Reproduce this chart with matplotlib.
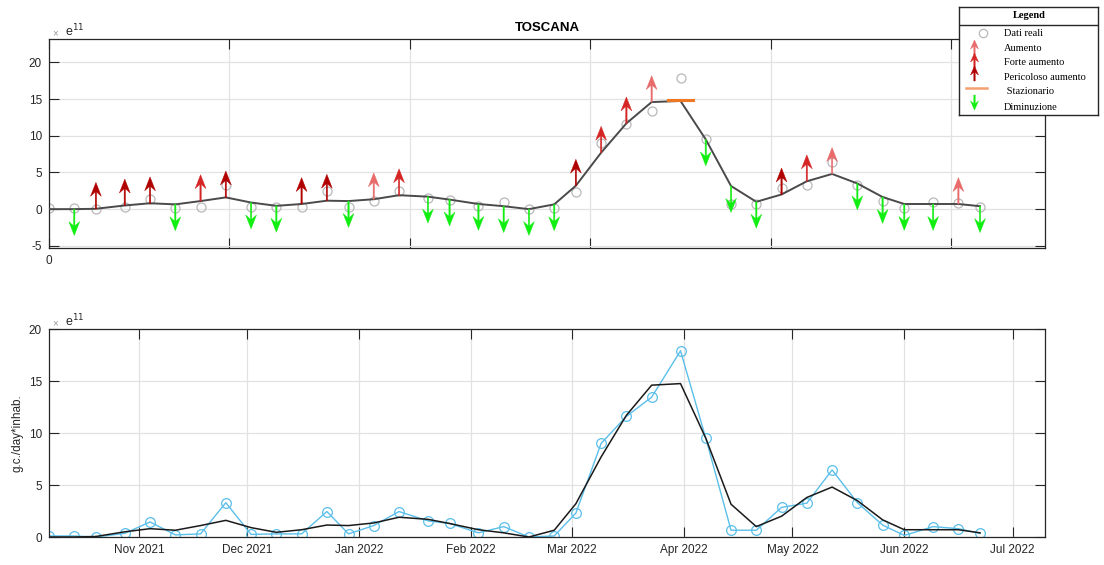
import datetime as dt
import numpy as np
import matplotlib
matplotlib.use('Agg')
import matplotlib.pyplot as plt

plt.rcParams['font.family'] = ['Liberation Sans', 'DejaVu Sans']
plt.rcParams['axes.unicode_minus'] = False

# dati: giorni dal 7 ottobre 2021, valori in unita' di 1e11 g.c./day*inhab.
inizio = dt.datetime(2021, 10, 7)
giorni = [0, 7, 13, 21, 28, 35, 42, 49, 56, 63, 70, 77, 83, 90, 97, 105, 111, 119, 126, 133,
          140, 146, 153, 160, 167, 175, 182, 189, 196, 203, 210, 217, 224, 231, 237, 245, 252, 258]
dati_reali = [0.1, 0.1, 0.0, 0.35, 1.45, 0.2, 0.3, 3.3, 0.25, 0.3,
              0.3, 2.45, 0.3, 1.1, 2.45, 1.55, 1.3, 0.4, 1.0, 0.0,
              0.1, 2.3, 9.0, 11.6, 13.45, 17.9, 9.5, 0.65, 0.65, 2.85,
              3.25, 6.45, 3.3, 1.15, 0.15, 1.0, 0.8, 0.35]
trend = [0.0, 0.0, 0.05, 0.5, 0.8, 0.65, 1.1, 1.6, 0.9, 0.45,
         0.7, 1.15, 1.1, 1.35, 1.9, 1.7, 1.3, 0.7, 0.4, 0.0,
         0.65, 3.2, 7.7, 11.7, 14.6, 14.75, 9.5, 3.15, 1.0, 2.0,
         3.8, 4.8, 3.5, 1.65, 0.7, 0.7, 0.7, 0.4]
# n=niente, g=diminuzione, a=aumento, f=forte aumento, p=pericoloso aumento, s=stazionario
tendenza = ['n', 'g', 'p', 'p', 'p', 'g', 'f', 'p', 'g', 'g',
            'p', 'p', 'g', 'a', 'f', 'g', 'g', 'g', 'g', 'g',
            'g', 'p', 'f', 'f', 'a', 's', 'g', 'g', 'g', 'p',
            'f', 'a', 'g', 'g', 'g', 'g', 'a', 'g']
mesi = ['Nov 2021', 'Dec 2021', 'Jan 2022', 'Feb 2022', 'Mar 2022', 'Apr 2022',
        'May 2022', 'Jun 2022', 'Jul 2022']

colori = {'a': '#e86a6a', 'f': '#d42424', 'p': '#b00000', 'g': '#11ee11'}
lung = 3.6
fine_giorni = 276
testo = '#262626'


def freccia(ax, x, y, d, c, hw, hl, w):
    ax.arrow(x, y, 0, d, width=w, head_width=hw, head_length=hl,
             length_includes_head=True, overhang=0.3, fc=c, ec=c, lw=0.3, zorder=4)


fig = plt.figure(figsize=(11.04, 5.65), dpi=100)
W, H = 1104, 565
ax1 = fig.add_axes([49 / W, 1 - 248 / H, 996 / W, 209 / H])
ax2 = fig.add_axes([49 / W, 1 - 537 / H, 996 / W, 208 / H])

for ax in (ax1, ax2):
    ax.grid(True, color='#e2e2e2', lw=0.9)
    ax.set_axisbelow(True)
    ax.tick_params(direction='in', top=True, right=True, length=7, width=0.8,
                   labelsize=8.5, colors=testo, pad=5)
    for s in ax.spines.values():
        s.set_color(testo)
        s.set_linewidth(0.9)

# --- grafico in alto ---
ax1.plot(giorni, trend, color='#4a4a4a', lw=1.4, zorder=3)
ax1.plot(giorni, dati_reali, 'o', mfc='none', mec='#b8b8b8', ms=6.5, mew=0.9, zorder=2)
for x, y, t in zip(giorni, trend, tendenza):
    if t == 'n':
        continue
    if t == 's':
        ax1.plot([x - 3.5, x + 3.5], [y + 0.15, y + 0.15], color='#ee7722', lw=2.2, zorder=4)
        continue
    d = -lung if t == 'g' else lung
    freccia(ax1, x, y, d, colori[t], hw=3.0, hl=1.9, w=0.38)
ax1.set_xlim(0, fine_giorni)
ax1.set_ylim(-5.3, 23.2)
ax1.set_yticks([-5, 0, 5, 10, 15, 20])
ax1.set_xticks([0, 50, 100, 150, 200, 250])
ax1.set_xticklabels(['0', '', '', '', '', ''])
ax1.set_title('TOSCANA', fontsize=9.5, fontweight='bold', color='black', pad=6)

# --- grafico in basso ---
date = [inizio + dt.timedelta(days=g) for g in giorni]
ax2.plot(date, dati_reali, '-o', color='#5bbfea', mfc='none', ms=7, lw=1.0, mew=0.9)
ax2.plot(date, trend, color='#1a1a1a', lw=1.1)
ax2.set_xlim(inizio, inizio + dt.timedelta(days=fine_giorni))
ax2.set_ylim(0, 20)
ax2.set_yticks([0, 5, 10, 15, 20])
tick_mesi = [dt.datetime(2021 + (10 + i) // 12, (10 + i) % 12 + 1, 1) for i in range(len(mesi))]
ax2.set_xticks(tick_mesi)
ax2.set_xticklabels(mesi)
ax2.set_ylabel('g.c./day*inhab.', fontsize=8.5, color=testo, labelpad=4)

# esponente stile MATLAB
for y0 in (33, 323):
    fig.text(52 / W, 1 - y0 / H, '\u00d7', fontsize=7, color='#999999', va='center')
    fig.text(65 / W, 1 - (y0 - 2) / H, r'e$^{11}$', fontsize=9, color=testo, va='center')

# --- legenda ---
lax = fig.add_axes([959 / W, 1 - 115 / H, 139 / W, 108 / H])
lax.set_xlim(959, 1098)
lax.set_ylim(115, 7)
lax.set_xticks([])
lax.set_yticks([])
for s in lax.spines.values():
    s.set_color(testo)
    s.set_linewidth(1.0)
lax.plot([959, 1098], [24.5, 24.5], color=testo, lw=1.0)
serif = ['Liberation Serif', 'DejaVu Serif']
lax.text(1029, 15.5, 'Legend', family=serif, fontweight='bold', fontsize=7.5, ha='center', va='center')
voci = ['Dati reali', 'Aumento', 'Forte aumento', 'Pericoloso aumento', ' Stazionario', 'Diminuzione']
yv = [33.5, 48.5, 62.5, 77.5, 91.5, 107]
for v, y in zip(voci, yv):
    lax.text(1004, y, v, family=serif, fontsize=7.5, va='center')
lax.plot([983], [33], 'o', mfc='none', mec='#b8b8b8', ms=6, mew=0.9)
for (y_a, y_b), t in zip([(55, 40), (68, 53), (81, 66)], ['a', 'f', 'p']):
    freccia(lax, 974.5, y_a, y_b - y_a, colori[t], hw=8, hl=9, w=1.4)
lax.plot([966, 987], [87.5, 87.5], color='#f4a070', lw=1.8)
freccia(lax, 974.5, 95, 15, colori['g'], hw=8, hl=9, w=1.4)

fig.savefig('out.png', dpi=100)
